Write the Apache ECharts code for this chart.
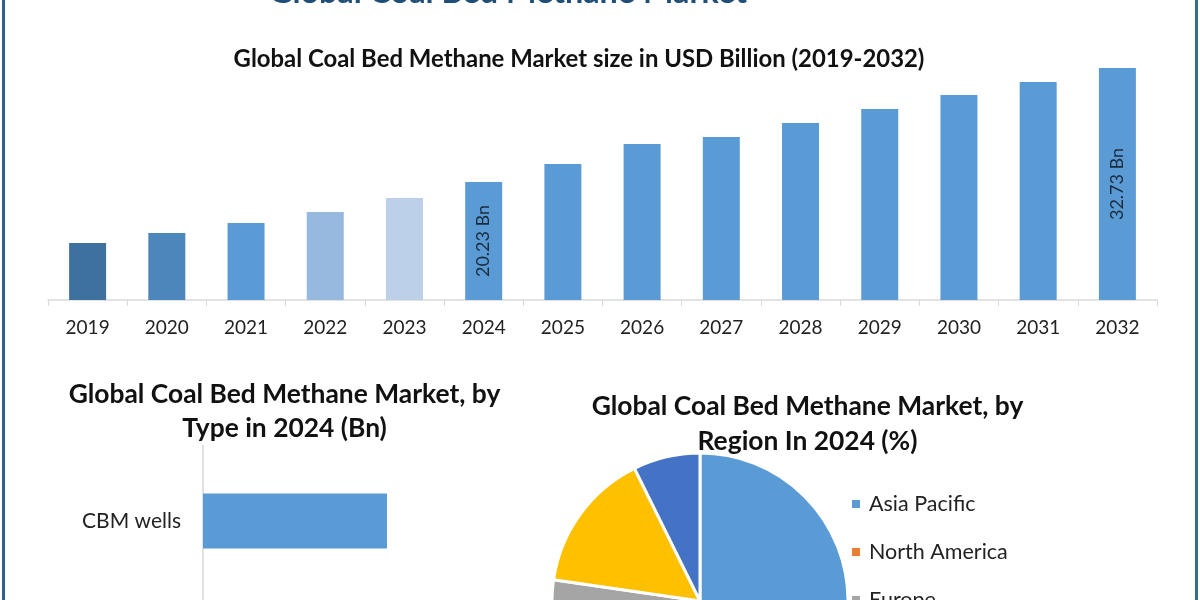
<!DOCTYPE html>
<html><head><meta charset="utf-8">
<style>html,body{margin:0;padding:0;background:#fff;overflow:hidden}#c{width:1200px;height:600px}</style>
<script src="https://cdn.jsdelivr.net/npm/echarts@6/dist/echarts.min.js"></script></head>
<body><div id="c"></div>
<script>
const years=['2019','2020','2021','2022','2023','2024','2025','2026','2027','2028','2029','2030','2031','2032'];
const marketSize=[13.54,14.64,15.73,16.94,18.47,20.23,22.2,24.4,25.16,26.7,28.23,29.77,31.2,32.73];
const barColors=['#3f719f','#4d86ba','#5b9bd5','#97b9df','#bdd0e9','#5b9bd5','#5b9bd5','#5b9bd5','#5b9bd5','#5b9bd5','#5b9bd5','#5b9bd5','#5b9bd5','#5b9bd5'];
const labelledYears=['2024','2032'];
const types=['CBM wells',''];
const typeValues=[18.4,null];
const regions=['Asia Pacific','North America','Europe','Middle East and Africa','South America'];
const regionShares=[45,20,12.3,15.4,7.3];
const regionColors=['#5b9bd5','#ed7d31','#a5a5a5','#ffc000','#4472c4'];
const font='Lato';
const chart=echarts.init(document.getElementById('c'),null,{renderer:'canvas'});
chart.setOption({
 animation:false,backgroundColor:'#fff',
 title:[
  {text:'Global Coal Bed Methane Market',left:503,top:-28,textAlign:'center',textStyle:{fontFamily:font,fontSize:32.3,fontWeight:'bold',color:'#1f4e79'}},
  {text:'Global Coal Bed Methane Market size in USD Billion (2019-2032)',left:574,top:42,textAlign:'center',textStyle:{fontFamily:font,fontSize:23.9,fontWeight:'bold',color:'#111'}},
  {text:'Global Coal Bed Methane Market, by\nType in 2024 (Bn)',left:279.5,top:372,textAlign:'center',textStyle:{fontFamily:font,fontSize:26.4,fontWeight:'bold',color:'#111',lineHeight:34}},
  {text:'Global Coal Bed Methane Market, by\nRegion In 2024 (%)',left:802.5,top:384,textAlign:'center',textStyle:{fontFamily:font,fontSize:26.4,fontWeight:'bold',color:'#111',lineHeight:35}}
 ],
 grid:[
  {left:48,width:1109,top:60,height:240,outerBoundsMode:'none'},
  {left:203,width:400,top:445,height:304,outerBoundsMode:'none'}
 ],
 xAxis:[
  {gridIndex:0,type:'category',data:years,axisLine:{lineStyle:{color:'#d9d9d9',width:1.5}},axisTick:{show:true,length:6,lineStyle:{color:'#d9d9d9'}},axisLabel:{fontFamily:font,fontSize:19,color:'#222',margin:18}},
  {gridIndex:1,type:'value',min:0,max:40,show:false,splitLine:{show:false}}
 ],
 yAxis:[
  {gridIndex:0,type:'value',min:7.3,max:33.6,show:false,splitLine:{show:false}},
  {gridIndex:1,type:'category',inverse:true,data:types,axisLine:{show:true,lineStyle:{color:'#d9d9d9',width:1.5}},axisTick:{show:false},axisLabel:{fontFamily:font,fontSize:21,color:'#222',margin:22}}
 ],
 legend:{data:regions.slice(0,3),orient:'vertical',left:845,top:488,height:200,itemWidth:10,itemHeight:10,itemGap:26,icon:'rect',
  textStyle:{fontFamily:font,fontSize:21.5,color:'#222',padding:[0,0,0,3]}},
 series:[
  {type:'bar',xAxisIndex:0,yAxisIndex:0,barWidth:37,
   data:marketSize.map((v,i)=>({value:v,itemStyle:{color:barColors[i]},
     label:{show:labelledYears.includes(years[i]),position:'inside',rotate:90,formatter:p=>p.value+' Bn',fontFamily:font,fontSize:18,color:'#1a2a3a'}}))},
  {type:'bar',xAxisIndex:1,yAxisIndex:1,barWidth:55,data:typeValues,itemStyle:{color:'#5b9bd5'}},
  {type:'pie',center:[700,601],radius:148,startAngle:90,clockwise:true,label:{show:false},labelLine:{show:false},
   itemStyle:{borderColor:'#fff',borderWidth:3},
   data:regions.map((n,i)=>({name:n,value:regionShares[i],itemStyle:{color:regionColors[i]}}))}
 ],
 graphic:[
  {type:'rect',shape:{x:2,y:0,width:3,height:600},style:{fill:'#2f5f8a'},silent:true},
  {type:'rect',shape:{x:1195,y:0,width:3,height:600},style:{fill:'#2f6f86'},silent:true}
 ]
});
</script></body></html>
